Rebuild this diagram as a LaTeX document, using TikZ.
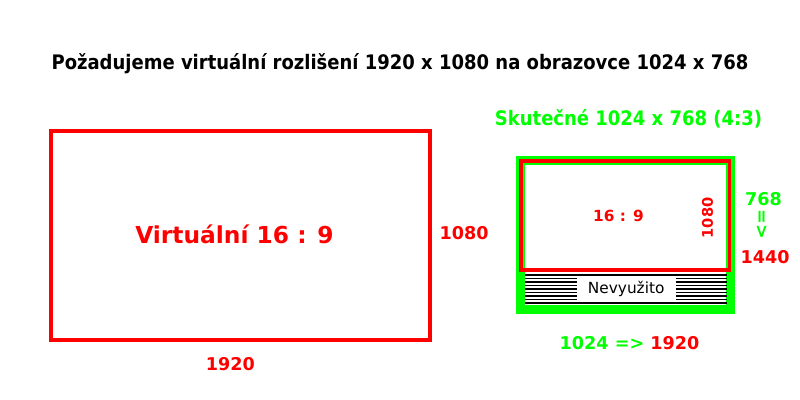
\documentclass[tikz,border=0pt]{standalone}
\usepackage{fontspec}
\setmainfont{DejaVu Sans}
\newfontfamily\condfont{DejaVu Sans Condensed}
\usetikzlibrary{positioning}
\definecolor{myred}{RGB}{255,0,0}
\definecolor{mygreen}{RGB}{0,255,0}

\begin{document}
\begin{tikzpicture}[x=0.75pt,y=-0.75pt,
    lab/.style={anchor=base, inner sep=0pt, font=\bfseries\fontsize{13.2}{15}\selectfont},
    stripe/.style={line width=1.1pt}]
    \useasboundingbox (0,0) rectangle (800,400);

    \node(title) [anchor=base, inner sep=0pt] at (400,69.3) {\condfont\bfseries\fontsize{15}{18}\selectfont Požadujeme virtuální rozlišení 1920 x 1080 na obrazovce 1024 x 768};

    % virtual screen
    \node(virt) [draw=myred, line width=3pt, minimum width=284.25pt, minimum height=156.75pt] at (240.5,235.5) {};
    \node(virttext) [anchor=base, inner sep=0pt, text=myred, font=\bfseries\fontsize{17.5}{20}\selectfont] at (234.5,243.3) {Virtuální 16 : 9};
    \node(vh) [lab, text=myred] at (464,239.3) {1080};
    \node(vw) [lab, text=myred] at (230.3,370) {1920};

    % real screen
    \node(real) [anchor=base, inner sep=0pt, text=mygreen] at (628.5,125) {\condfont\bfseries\fontsize{15}{18}\selectfont Skutečné 1024 x 768 (4:3)};
    \draw[mygreen, line width=6.75pt] (520.5,160.5) rectangle (730.5,309.5);
    \foreach \i in {0,...,8}
      \draw[stripe] (525,275+\i*3.5) -- (727,275+\i*3.5);
    \node(unused) [fill=white, inner sep=0pt, minimum width=74.25pt, minimum height=18.75pt, font=\fontsize{11.5}{14}\selectfont] at (626.2,289.2) {Nevyužito};
    \draw[myred, line width=2.6pt] (521,161) rectangle (729.3,270);

    \node(ratio) [anchor=base, inner sep=0pt, text=myred, font=\bfseries\fontsize{11.5}{14}\selectfont] at (618.5,221.7) {16 : 9};
    \node(rh) [inner sep=0pt, rotate=90, text=myred, font=\bfseries\fontsize{11}{13}\selectfont] at (707.5,218) {1080};

    \node(n768) [lab, text=mygreen] at (763.5,205) {768};
    \node(arr) [inner sep=0pt, rotate=-90, text=mygreen, font=\bfseries\fontsize{13.2}{15}\selectfont] at (762,224) {=>};
    \node(n1440) [lab, text=myred] at (765,263) {1440};
    \node(rw) [lab] at (629.5,349) {\color{mygreen}1024 => \color{myred}1920};
\end{tikzpicture}
\end{document}
